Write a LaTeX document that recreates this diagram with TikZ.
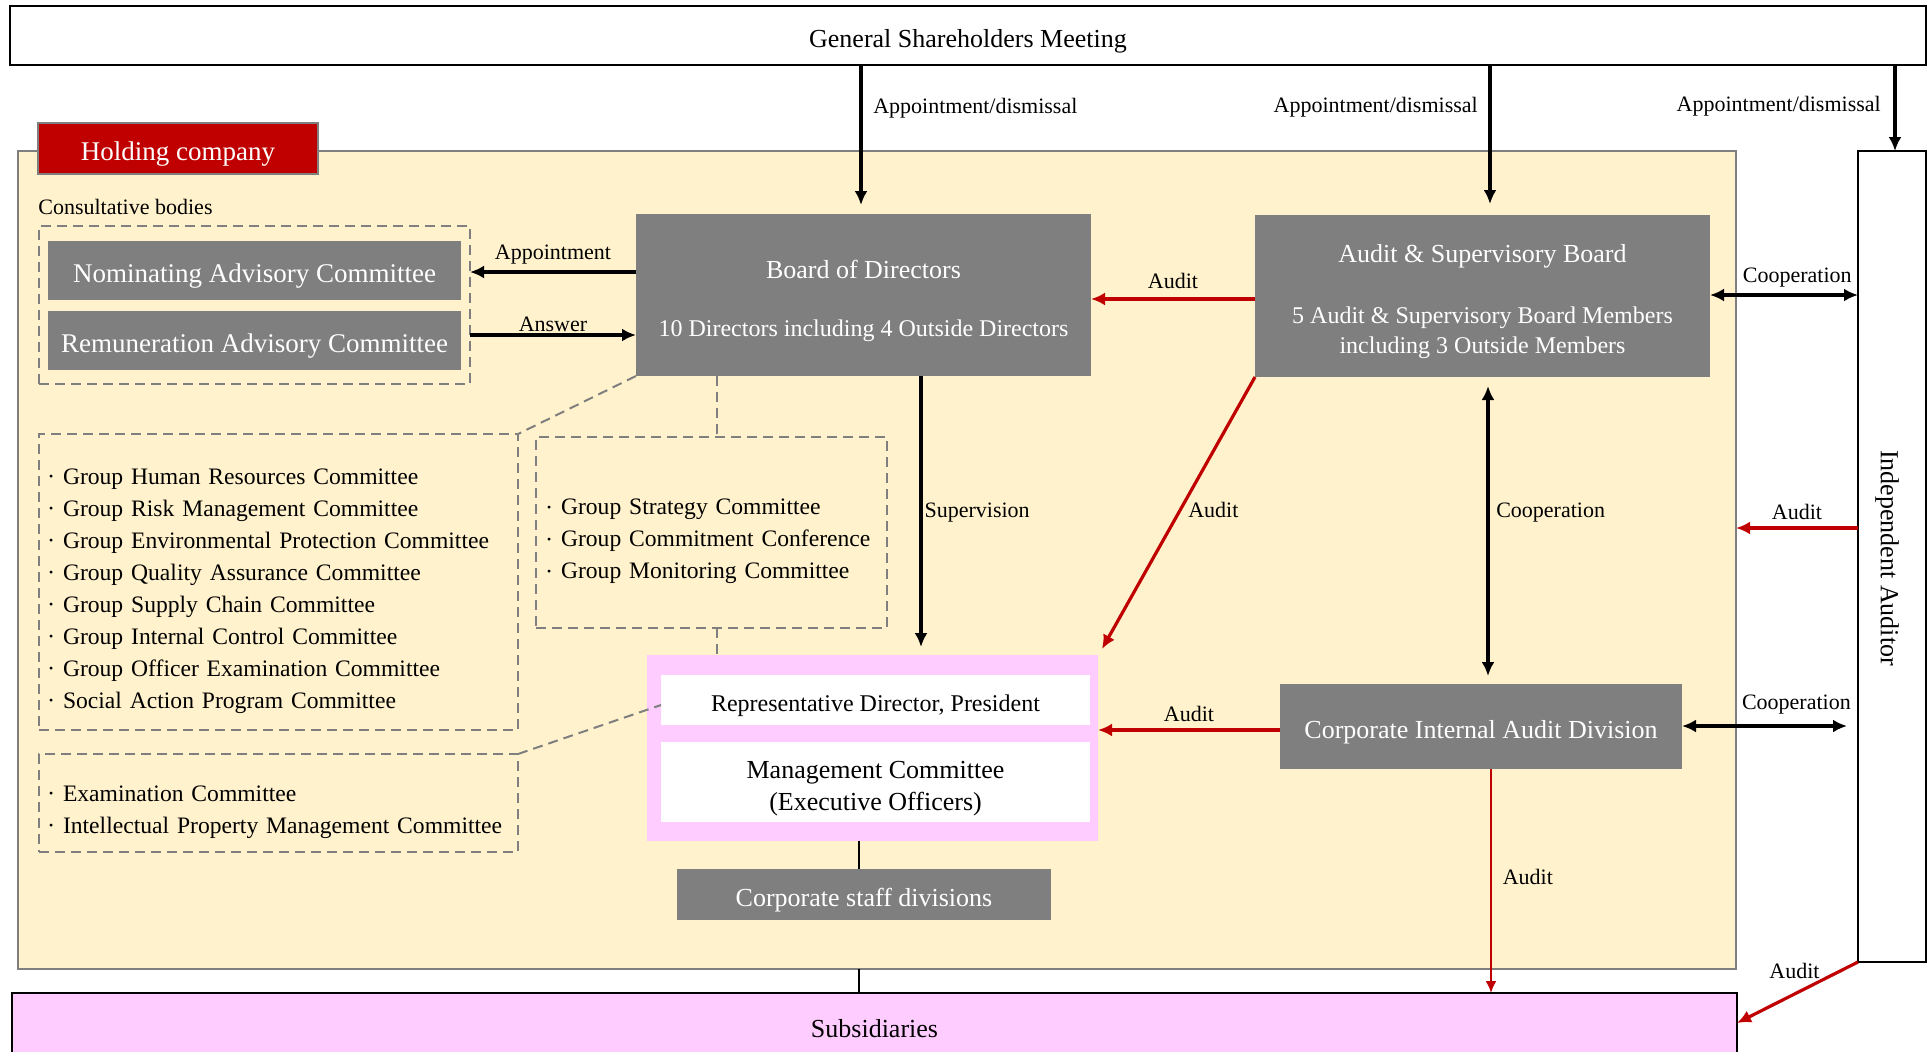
\documentclass[tikz,border=0pt]{standalone}
\usepackage{fontspec}
\setmainfont{Liberation Serif}
\usetikzlibrary{positioning}
\usetikzlibrary{arrows.meta}

\definecolor{holdyellow}{HTML}{FFF2CC}
\definecolor{boxgray}{HTML}{7F7F7F}
\definecolor{auditred}{HTML}{C00000}
\definecolor{subpink}{HTML}{FFCCFF}

\newcommand{\fs}[2]{\fontsize{#1}{#2}\selectfont}
\newcommand{\itm}{\makebox[7pt][l]{\raisebox{0.35ex}{\scalebox{0.5}{\textbullet}}}}
\newcommand{\boxtext}[1]{\raisebox{0pt}[\dimexpr\height+6pt\relax][\depth]{\begin{tabular}{@{}c@{}}#1\end{tabular}}}
\newcommand{\listtext}[1]{\raisebox{0pt}[\dimexpr\height+8pt\relax][\depth]{\begin{tabular}{@{}l@{}}#1\end{tabular}}}

\tikzset{
  graybox/.style={fill=boxgray, text=white, inner sep=0pt, outer sep=0pt, align=center, font=\fs{13}{15}},
  whitebox/.style={fill=white, inner sep=0pt, outer sep=0pt, align=center},
  dashbox/.style={draw=boxgray, line width=1pt, dash pattern=on 5pt off 3pt, inner ysep=0pt, outer sep=0pt, align=left, font=\fs{11.8}{16}},
  dashlink/.style={draw=boxgray, line width=1pt, dash pattern=on 5pt off 3pt},
  blackarrow/.style={line width=1.6pt, -{Latex[length=7pt,width=6.5pt]}},
  twoway/.style={line width=1.6pt, {Latex[length=7pt,width=6.5pt]}-{Latex[length=7pt,width=6.5pt]}},
  redarrow/.style={draw=auditred, line width=1.6pt, -{Latex[length=7pt,width=6.5pt]}},
  redthin/.style={draw=auditred, line width=1.1pt, -{Latex[length=6pt,width=5.5pt]}},
  lab/.style={font=\fs{11}{13}, text=black}
}

\begin{document}
\begin{tikzpicture}[x=0.5pt, y=-0.5pt]
\useasboundingbox (0,0) rectangle (1928,1051);

% outer boxes
\node[draw, line width=1pt, fill=white, outer sep=0pt, inner sep=0pt, minimum width=958pt, minimum height=29.5pt, font=\fs{13}{15}] (gsm) at (968,35.5) {\boxtext{General Shareholders Meeting}};
\node[draw=boxgray, line width=1pt, fill=holdyellow, outer sep=0pt, minimum width=859pt, minimum height=409pt] (hold) at (877,560) {};
\node[draw=boxgray, line width=1pt, fill=auditred, text=white, outer sep=0pt, inner sep=0pt, minimum width=140pt, minimum height=25.5pt, font=\fs{13.5}{15}] (tag) at (178,148.5) {\boxtext{Holding company}};
\node[draw, line width=1pt, fill=white, outer sep=0pt, minimum width=34pt, minimum height=405.5pt] (aud) at (1892,556.5) {};
\node[rotate=-90, font=\fs{13}{15}] (audtxt) at (1887,558) {Independent Auditor};
\node[draw, line width=1pt, fill=subpink, outer sep=0pt, minimum width=862.5pt, minimum height=36pt, font=\fs{13}{15}] (subs) at (874.5,1029) {Subsidiaries};

% consultative bodies
\node[anchor=west, inner sep=0pt, font=\fs{11}{13}] (cons) at (38,207) {Consultative bodies};
\node[dashbox, minimum width=215.5pt, minimum height=79pt] (consbox) at (254.5,305) {};
\node[graybox, minimum width=206.5pt, minimum height=29.5pt, font=\fs{13.5}{15}] (nom) at (254.5,270.5) {\boxtext{Nominating Advisory Committee}};
\node[graybox, minimum width=206.5pt, minimum height=29.5pt, font=\fs{13.5}{15}] (rem) at (254.5,340.5) {\boxtext{Remuneration Advisory Committee}};

% boards
\node[graybox, minimum width=227.5pt, minimum height=81pt] (bod) at (863.5,295) {\boxtext{Board of Directors\\[14pt]{\fs{12}{15}10 Directors including 4 Outside Directors}}};
\node[graybox, minimum width=227.5pt, minimum height=81pt] (asb) at (1482.5,296) {\boxtext{Audit \& Supervisory Board\\[15.5pt]{\fs{12}{15}5 Audit \& Supervisory Board Members}\\{\fs{12}{15}including 3 Outside Members}}};
\node[graybox, minimum width=201pt, minimum height=42.5pt] (ciad) at (1481,726.5) {\boxtext{Corporate Internal Audit Division}};

% executive side
\node[fill=subpink, inner sep=0pt, outer sep=0pt, minimum width=225.5pt, minimum height=93pt] (mgmt) at (872.5,748) {};
\node[whitebox, minimum width=214.5pt, minimum height=25pt, font=\fs{12}{14}] (rep) at (875.5,700) {\boxtext{Representative Director, President}};
\node[whitebox, minimum width=214.5pt, minimum height=40pt, font=\fs{13}{16}] (mc) at (875.5,782) {\boxtext{Management Committee\\(Executive Officers)}};
\node[graybox, minimum width=187pt, minimum height=25.5pt] (staff) at (864,894.5) {\boxtext{Corporate staff divisions}};

% committees
\node[dashbox, text width=164.5pt, inner xsep=5.5pt, minimum height=95.5pt] (strat) at (711.5,532.5) {\listtext{\itm Group Strategy Committee\\\itm Group Commitment Conference\\\itm Group Monitoring Committee}};
\node[dashbox, text width=229.5pt, inner xsep=5pt, minimum height=148pt] (grp) at (278.5,582) {\listtext{\itm Group Human Resources Committee\\\itm Group Risk Management Committee\\\itm Group Environmental Protection Committee\\\itm Group Quality Assurance Committee\\\itm Group Supply Chain Committee\\\itm Group Internal Control Committee\\\itm Group Officer Examination Committee\\\itm Social Action Program Committee}};
\node[dashbox, text width=229.5pt, inner xsep=5pt, minimum height=49pt] (exam) at (278.5,803) {\listtext{\itm Examination Committee\\\itm Intellectual Property Management Committee}};

% helper positions
\coordinate (bx) at (861,0);
\coordinate (ax) at (1490,0);
\coordinate (ix) at (1895,0);
\coordinate (ap) at (0,272);
\coordinate (an) at (0,335);
\coordinate (r1) at (0,299);
\coordinate (c1) at (0,295);
\coordinate (sv) at (921,0);
\coordinate (cv) at (1488,0);
\coordinate (r2) at (0,730);
\coordinate (c2) at (0,726);
\coordinate (r3) at (0,528);
\coordinate (r4) at (1491,0);
\coordinate (dx) at (717,0);
\coordinate (sl) at (859,0);

% dashed links
\draw[dashlink] (bod.south west) -- (grp.north east);
\draw[dashlink] (bod.south -| dx) -- (strat.north -| dx);
\draw[dashlink] (strat.south -| dx) -- (mgmt.north -| dx);
\draw[dashlink] (exam.north east) -- ([yshift=-2.5pt]rep.west);

% thin lines
\draw[line width=0.6pt] (mgmt.south -| sl) -- (staff.north -| sl);
\draw[line width=0.6pt] (hold.south -| sl) -- (subs.north -| sl);

% appointment / dismissal
\draw[blackarrow, shorten >=4.5pt] (gsm.south -| bx) -- node[pos=0.29, right=2pt, lab] {Appointment/dismissal} (bod.north -| bx);
\draw[blackarrow, shorten >=5.5pt] (gsm.south -| ax) -- node[pos=0.28, left=2pt, lab] {Appointment/dismissal} (asb.north -| ax);
\draw[blackarrow] (gsm.south -| ix) -- node[pos=0.48, left=3pt, lab] {Appointment/dismissal} (aud.north -| ix);

% consultative arrows
\draw[blackarrow] (bod.west |- ap) -- node[above, lab] {Appointment} (consbox.east |- ap);
\draw[blackarrow] (consbox.east |- an) -- node[above, lab, inner sep=1pt] {Answer} (bod.west |- an);

% supervision and cooperation
\draw[blackarrow, shorten >=4pt] (bod.south -| sv) -- node[pos=0.49, right, inner sep=1pt, lab] {Supervision} (mgmt.north -| sv);
\draw[twoway] (asb.east |- c1) -- node[pos=0.59, above, lab] {Cooperation} (aud.west |- c1);
\draw[twoway, shorten <=4.5pt, shorten >=4pt] (asb.south -| cv) -- node[pos=0.44, right, lab] {Cooperation} (ciad.north -| cv);
\draw[twoway, shorten >=5.5pt] (ciad.east |- c2) -- node[pos=0.65, above=2pt, lab] {Cooperation} (aud.west |- c2);

% audits
\draw[redarrow] (asb.west |- r1) -- node[above=1pt, lab] {Audit} (bod.east |- r1);
\draw[redarrow] (asb.south west) -- node[pos=0.49, right, lab] {Audit} ([shift={(2pt,3pt)}]mgmt.north east);
\draw[redarrow] (ciad.west |- r2) -- node[above, lab] {Audit} (mgmt.east |- r2);
\draw[redarrow] (aud.west |- r3) -- node[above, lab] {Audit} (hold.east |- r3);
\draw[redthin] (ciad.south -| r4) -- node[pos=0.48, right=2pt, lab] {Audit} (subs.north -| r4);
\draw[redarrow] (aud.south west) -- node[pos=0.15, left=6pt, lab] {Audit} ([yshift=3pt]subs.east);

\end{tikzpicture}
\end{document}
